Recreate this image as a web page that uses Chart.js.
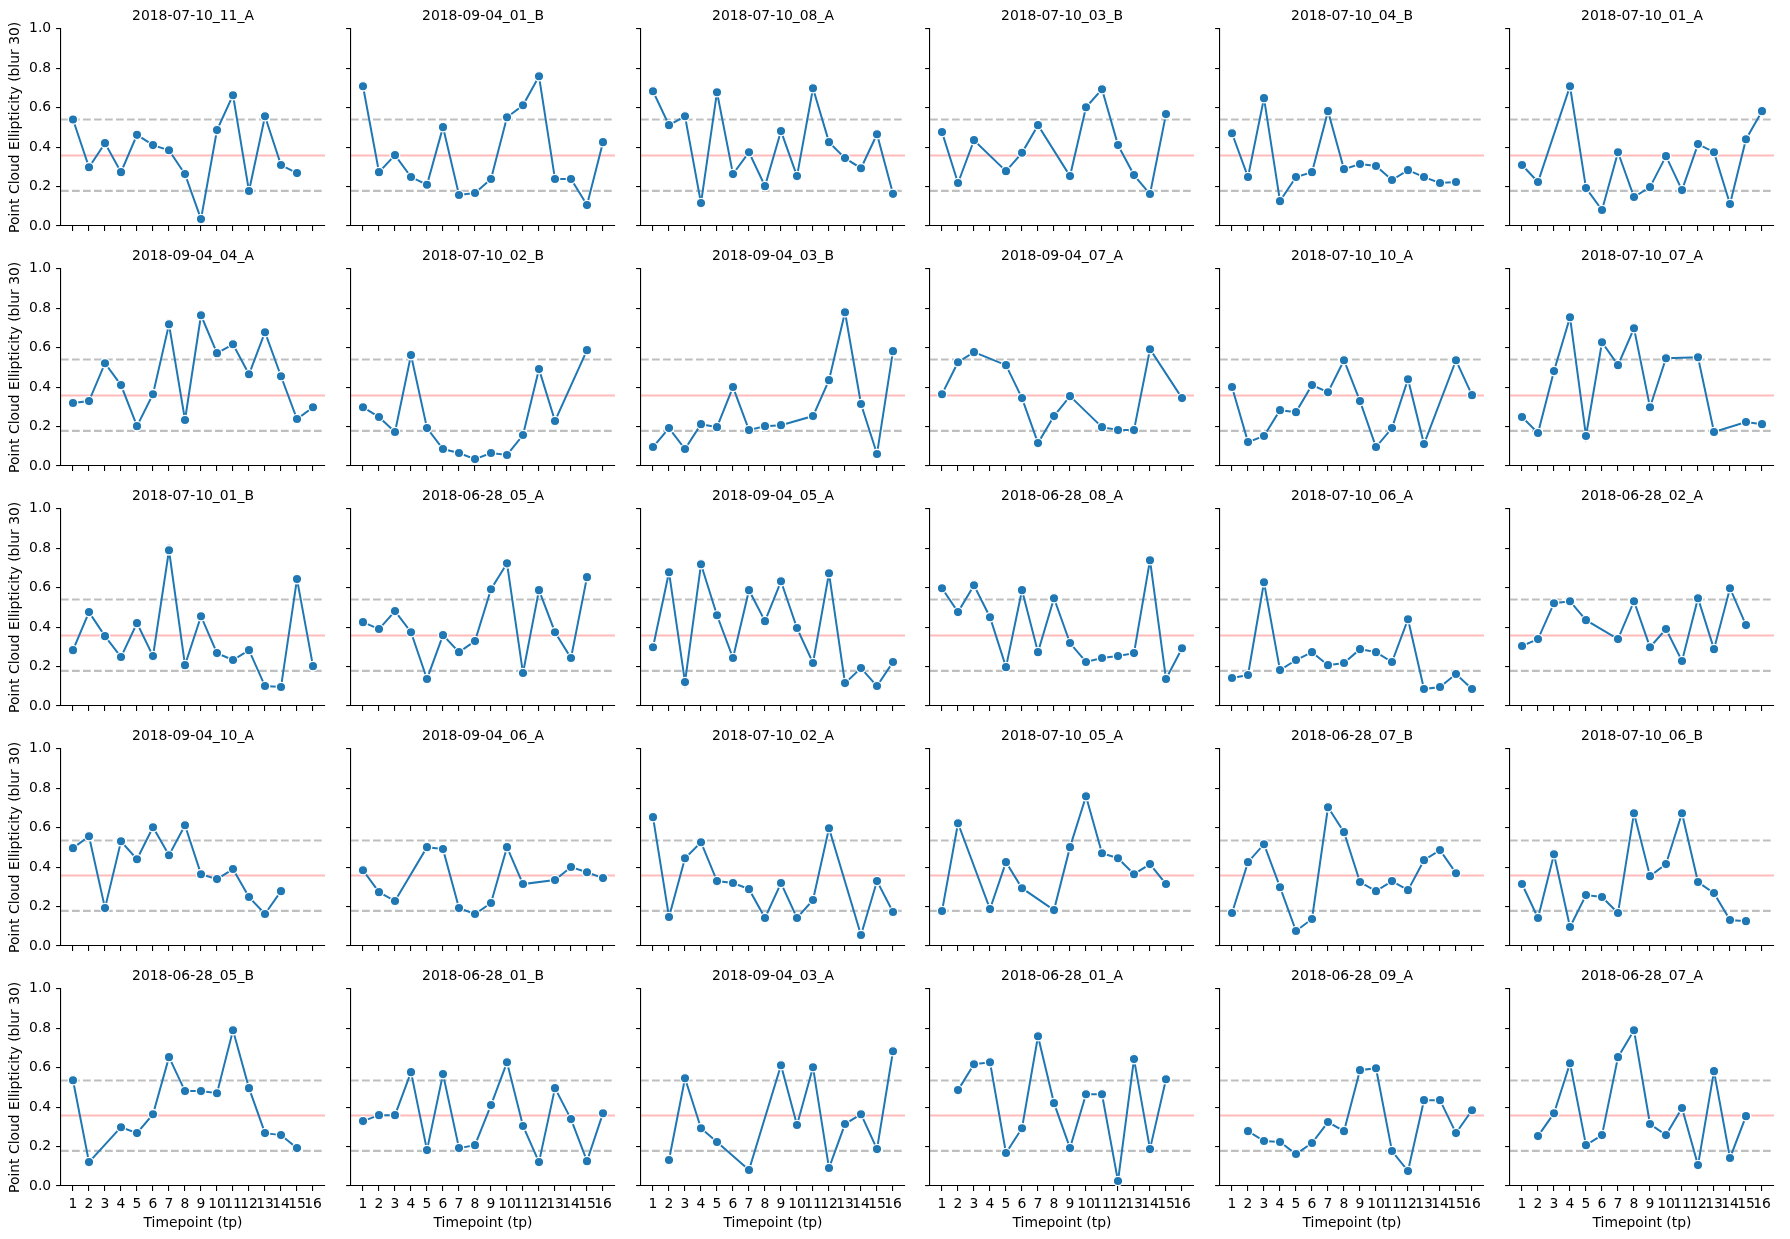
<!DOCTYPE html>
<html>
<head>
<meta charset="utf-8">
<script src="https://cdn.jsdelivr.net/npm/chart.js@4.4.1/dist/chart.umd.min.js"></script>
<style>
html, body { margin: 0; padding: 0; background: #fff; }
#fig { position: relative; width: 1790px; height: 1239px; overflow: hidden; background: #fff; }
#fig canvas { position: absolute; }
</style>
</head>
<body>
<div id="fig"></div>
<script>
// panel titles, row by row
var PANEL_TITLES = [
    '2018-07-10_11_A', '2018-09-04_01_B', '2018-07-10_08_A', '2018-07-10_03_B', '2018-07-10_04_B', '2018-07-10_01_A',
    '2018-09-04_04_A', '2018-07-10_02_B', '2018-09-04_03_B', '2018-09-04_07_A', '2018-07-10_10_A', '2018-07-10_07_A',
    '2018-07-10_01_B', '2018-06-28_05_A', '2018-09-04_05_A', '2018-06-28_08_A', '2018-07-10_06_A', '2018-06-28_02_A',
    '2018-09-04_10_A', '2018-09-04_06_A', '2018-07-10_02_A', '2018-07-10_05_A', '2018-06-28_07_B', '2018-07-10_06_B',
    '2018-06-28_05_B', '2018-06-28_01_B', '2018-09-04_03_A', '2018-06-28_01_A', '2018-06-28_09_A', '2018-06-28_07_A'
];

var TIMEPOINTS = [1, 2, 3, 4, 5, 6, 7, 8, 9, 10, 11, 12, 13, 14, 15, 16];
var Y_TICKS = [0, 0.2, 0.4, 0.6, 0.8, 1.0];

// ellipticity per timepoint (null = no measurement), same order as PANEL_TITLES
var ELLIPTICITY = [
    [0.540, 0.298, 0.420, 0.273, 0.462, 0.410, 0.384, 0.263, 0.035, 0.486, 0.663, 0.177, 0.556, 0.309, 0.268, null],
    [0.708, 0.273, 0.359, 0.248, 0.209, 0.501, 0.157, 0.167, 0.238, 0.551, 0.612, 0.759, 0.238, 0.238, 0.106, 0.425],
    [0.683, 0.511, 0.556, 0.116, 0.678, 0.263, 0.374, 0.202, 0.481, 0.253, 0.698, 0.425, 0.344, 0.293, 0.465, 0.163],
    [0.476, 0.218, 0.435, null, 0.278, 0.371, 0.511, null, 0.253, 0.602, 0.693, 0.410, 0.258, 0.162, 0.567, null],
    [0.470, 0.248, 0.648, 0.126, 0.248, 0.273, 0.582, 0.288, 0.314, 0.304, 0.233, 0.283, 0.248, 0.218, 0.223, null],
    [0.309, 0.223, null, 0.708, 0.192, 0.081, 0.374, 0.147, 0.197, 0.354, 0.182, 0.415, 0.374, 0.111, 0.440, 0.582],

    [0.319, 0.329, 0.521, 0.410, 0.202, 0.364, 0.718, 0.233, 0.764, 0.572, 0.617, 0.465, 0.678, 0.455, 0.238, 0.298],
    [0.298, 0.248, 0.172, 0.562, 0.192, 0.086, 0.066, 0.035, 0.066, 0.056, 0.157, 0.491, 0.228, null, 0.587, null],
    [0.096, 0.192, 0.086, 0.212, 0.197, 0.400, 0.182, 0.202, 0.207, null, 0.253, 0.435, 0.779, 0.314, 0.061, 0.582],
    [0.364, 0.526, 0.577, null, 0.511, 0.344, 0.116, 0.253, 0.354, null, 0.197, 0.182, 0.182, 0.592, null, 0.344],
    [0.400, 0.121, 0.152, 0.283, 0.273, 0.410, 0.374, 0.536, 0.329, 0.096, 0.192, 0.440, 0.111, null, 0.536, 0.359],
    [0.248, 0.167, 0.481, 0.754, 0.152, 0.627, 0.511, 0.698, 0.298, 0.546, null, 0.551, 0.172, null, 0.223, 0.212],

    [0.283, 0.476, 0.354, 0.248, 0.420, 0.253, 0.789, 0.207, 0.455, 0.268, 0.233, 0.283, 0.101, 0.096, 0.643, 0.202],
    [0.425, 0.390, 0.481, 0.374, 0.137, 0.359, 0.273, 0.329, 0.592, 0.723, 0.167, 0.587, 0.374, 0.243, 0.653, null],
    [0.298, 0.678, 0.121, 0.718, 0.460, 0.243, 0.587, 0.430, 0.632, 0.395, 0.218, 0.673, 0.116, 0.192, 0.101, 0.223],
    [0.597, 0.476, 0.612, 0.450, 0.197, 0.587, 0.273, 0.546, 0.319, 0.223, 0.243, 0.253, 0.268, 0.739, 0.137, 0.293],
    [0.142, 0.157, 0.627, 0.182, 0.233, 0.273, 0.207, 0.218, 0.288, 0.273, 0.223, 0.440, 0.086, 0.096, 0.162, 0.086],
    [0.304, 0.339, 0.521, 0.531, 0.435, null, 0.339, 0.531, 0.298, 0.390, 0.228, 0.546, 0.288, 0.597, 0.410, null],

    [0.496, 0.556, 0.192, 0.531, 0.440, 0.602, 0.460, 0.612, 0.364, 0.339, 0.390, 0.248, 0.162, 0.278, null, null],
    [0.384, 0.273, 0.228, null, 0.501, 0.491, 0.192, 0.162, 0.218, 0.501, 0.314, null, 0.334, 0.400, 0.374, 0.344],
    [0.653, 0.147, 0.445, 0.526, 0.329, 0.319, 0.288, 0.142, 0.319, 0.142, 0.233, 0.597, null, 0.056, 0.329, 0.172],
    [0.177, 0.622, null, 0.187, 0.425, 0.293, null, 0.182, 0.501, 0.759, 0.470, 0.445, 0.364, 0.415, 0.314, null],
    [0.167, 0.425, 0.516, 0.298, 0.076, 0.137, 0.703, 0.577, 0.324, 0.278, 0.329, 0.283, 0.435, 0.486, 0.369, null],
    [0.314, 0.142, 0.465, 0.096, 0.258, 0.248, 0.167, 0.673, 0.354, 0.415, 0.673, 0.324, 0.268, 0.132, 0.126, null],

    [0.536, 0.121, null, 0.298, 0.268, 0.364, 0.653, 0.481, 0.481, 0.470, 0.789, 0.496, 0.268, 0.258, 0.192, null],
    [0.329, 0.359, 0.359, 0.577, 0.182, 0.567, 0.192, 0.207, 0.410, 0.627, 0.304, 0.121, 0.496, 0.339, 0.126, 0.369],
    [null, 0.132, 0.546, 0.293, 0.223, null, 0.081, null, 0.612, 0.309, 0.602, 0.091, 0.314, 0.364, 0.187, 0.683],
    [null, 0.486, 0.617, 0.627, 0.167, 0.293, 0.759, 0.420, 0.192, 0.465, 0.465, 0.025, 0.643, 0.187, 0.541, null],
    [null, 0.278, 0.228, 0.223, 0.162, 0.218, 0.324, 0.278, 0.587, 0.597, 0.177, 0.076, 0.435, 0.435, 0.268, 0.384],
    [null, 0.253, 0.369, 0.622, 0.207, 0.258, 0.653, 0.789, 0.314, 0.258, 0.395, 0.106, 0.582, 0.142, 0.354, null]
];

// reference lines
var REF_MEAN = 0.357;
var REF_LOW = 0.178;
var REF_HIGH_BY_ROW = [0.540, 0.540, 0.540, 0.535, 0.535];

var Y_LABEL = 'Point Cloud Ellipticity (blur 30)';
var X_LABEL = 'Timepoint (tp)';

Chart.defaults.font.family = "'DejaVu Sans', sans-serif";
Chart.defaults.font.size = 13.9;
Chart.defaults.color = '#000';

var refLines = {
    id: 'refLines',
    beforeDatasetsDraw: function(chart, args, opts) {
        var ctx = chart.ctx;
        var area = chart.chartArea;
        var y = chart.scales.y;
        opts.lines.forEach(function(l) {
            var py = y.getPixelForValue(l.value);
            ctx.save();
            ctx.strokeStyle = l.color;
            ctx.lineWidth = l.width;
            ctx.setLineDash(l.dash || []);
            ctx.beginPath();
            ctx.moveTo(area.left, py);
            ctx.lineTo(area.right, py);
            ctx.stroke();
            ctx.restore();
        });
    }
};

var fig = document.getElementById('fig');
var NCOL = 6, NROW = 5;
var PLOT_W = 270;

for (var k = 0; k < PANEL_TITLES.length; k++) {
    (function(k) {
        var r = Math.floor(k / NCOL);
        var c = k % NCOL;
        var first = c === 0;
        var bottom = r === NROW - 1;
        var yw = first ? 61 : 8;
        var axLeft = Math.round(61 + 289.8 * c);

        var cv = document.createElement('canvas');
        cv.width = yw + PLOT_W;
        cv.height = bottom ? 279 : 240;
        cv.style.left = (axLeft - yw) + 'px';
        cv.style.top = (240 * r) + 'px';
        fig.appendChild(cv);

        var pts = [];
        for (var i = 0; i < TIMEPOINTS.length; i++) {
            if (ELLIPTICITY[k][i] !== null) pts.push({x: TIMEPOINTS[i], y: ELLIPTICITY[k][i]});
        }

        new Chart(cv.getContext('2d'), {
            type: 'line',
            data: {
                datasets: [{
                    data: pts,
                    borderColor: '#1f77b4',
                    borderWidth: 2,
                    pointRadius: 4.7,
                    pointBackgroundColor: '#1f77b4',
                    pointBorderColor: '#ffffff',
                    pointBorderWidth: 1.3,
                    tension: 0
                }]
            },
            options: {
                responsive: false,
                animation: false,
                devicePixelRatio: 1,
                events: [],
                layout: {padding: 0},
                plugins: {
                    legend: {display: false},
                    tooltip: {enabled: false},
                    title: {
                        display: true,
                        text: PANEL_TITLES[k],
                        fullSize: false,
                        color: '#000',
                        font: {size: 13.9, weight: 'normal'},
                        padding: {top: 8.5, bottom: 3.5}
                    },
                    refLines: {
                        lines: [
                            {value: REF_HIGH_BY_ROW[r], color: 'rgba(128,128,128,0.5)', width: 2.08, dash: [7.7, 3.3]},
                            {value: REF_MEAN, color: 'rgba(255,0,0,0.27)', width: 2.08},
                            {value: REF_LOW, color: 'rgba(128,128,128,0.5)', width: 2.08, dash: [7.7, 3.3]}
                        ]
                    }
                },
                scales: {
                    x: {
                        type: 'linear',
                        min: 0.25,
                        max: 16.75,
                        afterBuildTicks: function(s) { s.ticks = TIMEPOINTS.map(function(v) { return {value: v}; }); },
                        afterFit: function(s) { s.height = bottom ? 53 : 14; },
                        ticks: {display: bottom, autoSkip: false, maxRotation: 0, minRotation: 0, padding: 4.9,
                            callback: function(v) { return String(v); }},
                        grid: {drawOnChartArea: false, drawTicks: true, tickLength: 4.9, color: '#000', lineWidth: 1.1},
                        border: {display: true, color: '#000', width: 1.1},
                        title: {display: bottom, text: X_LABEL, color: '#000', padding: {top: 0, bottom: 7.7}}
                    },
                    y: {
                        min: 0,
                        max: 1,
                        afterBuildTicks: function(s) { s.ticks = Y_TICKS.map(function(v) { return {value: v}; }); },
                        afterFit: function(s) { s.width = yw; },
                        ticks: {display: first, autoSkip: false, padding: 4.9,
                            callback: function(v) { return v.toFixed(1); }},
                        grid: {drawOnChartArea: false, drawTicks: true, tickLength: 4.9, color: '#000', lineWidth: 1.1},
                        border: {display: true, color: '#000', width: 1.1},
                        title: {display: first, text: Y_LABEL, color: '#000', padding: {top: 7, bottom: 0}}
                    }
                }
            },
            plugins: [refLines]
        });
    })(k);
}
</script>
</body>
</html>
